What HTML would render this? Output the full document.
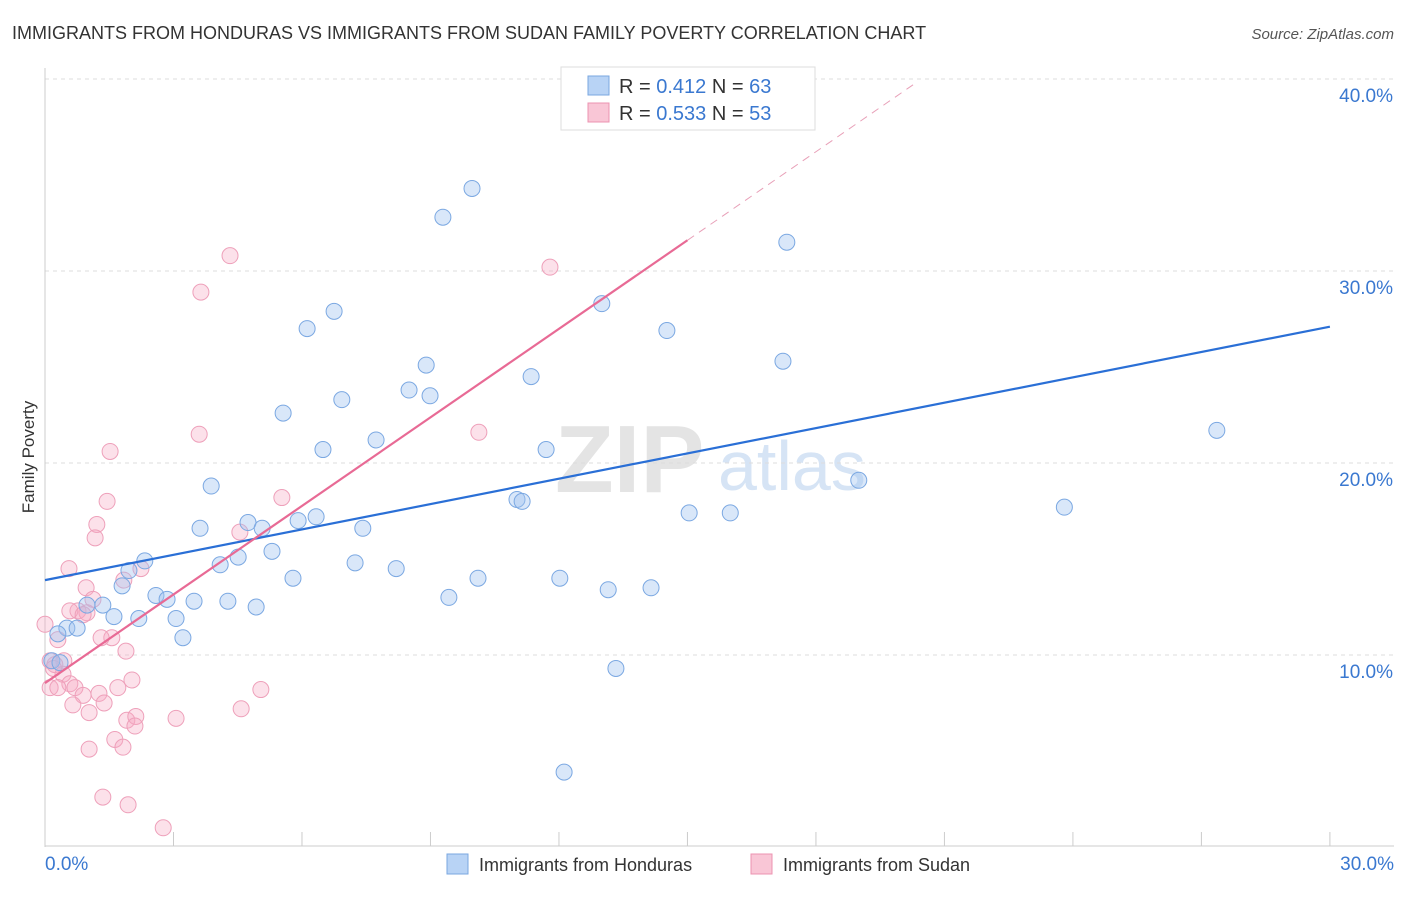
<!DOCTYPE html>
<html><head><meta charset="utf-8"><style>
body{margin:0;background:#fff;font-family:"Liberation Sans",sans-serif;}
svg text{font-family:"Liberation Sans",sans-serif;}
</style></head><body>
<svg id="chart" width="1406" height="892" xmlns="http://www.w3.org/2000/svg">
<text x="12" y="39" font-size="18" fill="#333">IMMIGRANTS FROM HONDURAS VS IMMIGRANTS FROM SUDAN FAMILY POVERTY CORRELATION CHART</text>
<text x="1394" y="39" font-size="15" fill="#555" text-anchor="end" font-style="italic">Source: ZipAtlas.com</text>
<text transform="translate(34,457) rotate(-90)" font-size="17" fill="#333" text-anchor="middle">Family Poverty</text>
<text x="555" y="492" font-size="96" fill="#e4e4e4" font-family="Liberation Serif" font-weight="bold">ZIP</text>
<text x="718" y="490" font-size="70" fill="#d6e4f5">atlas</text>
<g id="grid"></g><g id="trend"></g><g id="pts"></g>
<g>
<rect x="561" y="67" width="254" height="63" fill="#fff" stroke="#ddd"/>
<rect x="588" y="76" width="21" height="19" fill="#b8d3f5" stroke="#7aa7e0"/>
<rect x="588" y="103" width="21" height="19" fill="#f9c6d6" stroke="#ec93b0"/>
<text x="619" y="93" font-size="20" fill="#333">R = <tspan fill="#3a78d0">0.412</tspan>   N = <tspan fill="#3a78d0">63</tspan></text>
<text x="619" y="120" font-size="20" fill="#333">R = <tspan fill="#3a78d0">0.533</tspan>   N = <tspan fill="#3a78d0">53</tspan></text>
</g>
<g>
<rect x="447" y="854" width="21" height="20" fill="#b8d3f5" stroke="#7aa7e0"/>
<text x="479" y="871" font-size="18" fill="#333">Immigrants from Honduras</text>
<rect x="751" y="854" width="21" height="20" fill="#f9c6d6" stroke="#ec93b0"/>
<text x="783" y="871" font-size="18" fill="#333">Immigrants from Sudan</text>
</g>
</svg>
<script>
const yTicks=[10,20,30,40];
const xTickLabels=["0.0%","30.0%"];
const blueX=[9.97,9.29,17.32,13.0,6.75,6.12,14.52,8.9,17.23,11.35,8.5,8.99,6.93,5.56,7.73,6.49,11.7,27.36,3.88,19.0,11.02,11.14,23.8,15.04,16.0,5.91,6.33,3.62,4.74,5.07,7.42,2.33,4.51,5.3,4.09,1.96,7.24,8.2,5.79,10.11,12.02,1.8,13.15,14.15,2.59,2.85,3.48,4.27,9.43,4.93,1.35,0.98,1.61,2.19,3.06,0.51,0.75,0.3,3.22,13.33,0.16,0.35,12.12];
const blueY=[34.3,32.8,31.5,28.3,27.9,27.0,26.9,25.1,25.3,24.5,23.8,23.5,23.3,22.6,21.2,20.7,20.7,21.7,18.8,19.1,18.1,18.0,17.7,17.4,17.4,17.0,17.2,16.6,16.9,16.6,16.6,14.9,15.1,15.4,14.7,14.4,14.8,14.5,14.0,14.0,14.0,13.6,13.4,13.5,13.1,12.9,12.8,12.8,13.0,12.5,12.6,12.6,12.0,11.9,11.9,11.4,11.4,11.1,10.9,9.3,9.7,9.6,3.9];
const pinkX=[4.32,11.79,3.64,3.6,10.13,1.52,1.45,5.53,1.21,1.17,4.55,0.56,2.24,1.84,0.96,1.12,0.77,0.58,0.98,0.89,1.56,1.31,0,0.3,1.89,0.12,0.44,0.23,0.42,0.58,0.12,0.3,0.7,1.7,2.03,5.04,0.89,1.26,1.38,0.65,1.03,4.58,3.06,1.91,2.12,2.1,1.63,1.03,1.82,1.35,1.94,2.76,0.2];
const pinkY=[30.8,30.2,28.9,21.5,21.6,20.6,18.0,18.2,16.8,16.1,16.4,14.5,14.5,13.9,13.5,12.9,12.3,12.3,12.2,12.1,10.9,10.9,11.6,10.8,10.2,9.7,9.7,9.5,9.0,8.5,8.3,8.3,8.3,8.3,8.7,8.2,7.9,8.0,7.5,7.4,7.0,7.2,6.7,6.6,6.8,6.3,5.6,5.1,5.2,2.6,2.2,1.0,9.3];
const blueTrend=[13.9,27.1];
const pinkTrend=[8.54,31.6];
const X=v=>45+v*42.83, Y=v=>847-v*19.2;
const NS="http://www.w3.org/2000/svg";
function mk(tag,attrs,parent){const e=document.createElementNS(NS,tag);for(const k in attrs)e.setAttribute(k,attrs[k]);parent.appendChild(e);return e;}
const grid=document.getElementById('grid');
yTicks.forEach(t=>{
 const l=mk('line',{x1:45,x2:1394,y1:Y(t),y2:Y(t),stroke:'#ddd','stroke-dasharray':'4,4'},grid);
 
 
 const tx=mk('text',{x:1393,y:Y(t)+23,'font-size':19,fill:'#3a78d0','text-anchor':'end'},grid);
 tx.textContent=t.toFixed(1)+'%';
 
 
});
const ax=mk('line',{x1:45,x2:45,y1:68,y2:847,stroke:'#ccc'},grid);


const bx=mk('line',{x1:45,x2:1394,y1:846,y2:846,stroke:'#ccc'},grid);


for(let i=1;i<=10;i++){const t=mk('line',{x1:X(i*3),x2:X(i*3),y1:832,y2:846,stroke:'#ccc'},grid);
 
 }
[[0,'start',45],[30,'end',1394]].forEach((d,i)=>{const t=mk('text',{x:d[2],y:870,'font-size':19,fill:'#3a78d0','text-anchor':d[1]},grid);t.textContent=xTickLabels[i];
 
 });
const tr=document.getElementById('trend');
const pts=document.getElementById('pts');
for(let i=0;i<pinkX.length;i++){const c=mk('circle',{cx:X(pinkX[i]),cy:Y(pinkY[i]),r:8,fill:'rgba(246,170,195,0.35)',stroke:'#eea0ba','stroke-width':1},pts);
 
 }
for(let i=0;i<blueX.length;i++){const c=mk('circle',{cx:X(blueX[i]),cy:Y(blueY[i]),r:8,fill:'rgba(160,195,240,0.4)',stroke:'#7ba8e2','stroke-width':1},pts);
 
 }
const b=mk('line',{x1:X(0),y1:Y(blueTrend[0]),x2:X(30),y2:Y(blueTrend[1]),stroke:'#2a6fd6','stroke-width':2.2},pts);


const ps=(pinkTrend[1]-pinkTrend[0])/15;
const p=mk('line',{x1:X(0),y1:Y(pinkTrend[0]),x2:X(15),y2:Y(pinkTrend[1]),stroke:'#e86a95','stroke-width':2.2},pts);


const pd=mk('line',{x1:X(15),y1:Y(pinkTrend[1]),x2:X(20.3),y2:Y(pinkTrend[0]+ps*20.3),stroke:'#e8a0b8','stroke-width':1,'stroke-dasharray':'8,6'},pts);


</script>
</body></html>
